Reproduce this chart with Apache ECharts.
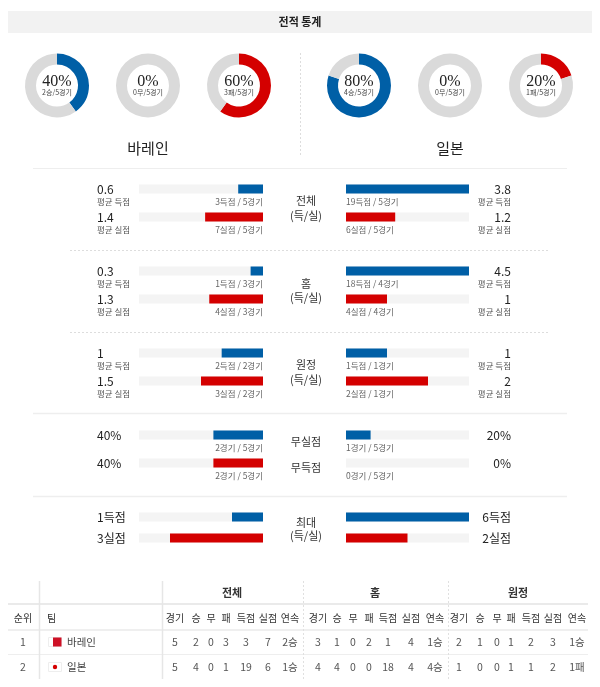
<!DOCTYPE html>
<html><head><meta charset="utf-8">
<script src="https://cdn.jsdelivr.net/npm/echarts@6/dist/echarts.min.js"></script>
<style>html,body{margin:0;padding:0;background:#fff}#c{width:600px;height:687px}</style>
</head><body><div id="c"></div>
<script>
// ---------- DATA ----------
const teams = ['바레인', '일본'];
const games = [5, 5];
const wins = [2, 4];
const draws = [0, 0];
const losses = [3, 1];
const winPct = [40, 80];
const drawPct = [0, 0];
const lossPct = [60, 20];

const sectionTitles = [['전체', '(득/실)'], ['홈', '(득/실)'], ['원정', '(득/실)'], ['무실점', '무득점'], ['최대', '(득/실)']];
const sectionMax = [3, 3, 3, 100, 4];
const bahrainValues = [[0.6, 1.4], [0.3, 1.3], [1, 1.5], [40, 40], [1, 3]];
const japanValues = [[3.8, 1.2], [4.5, 1], [1, 2], [20, 0], [6, 2]];
const bahrainText = [['0.6', '1.4'], ['0.3', '1.3'], ['1', '1.5'], ['40%', '40%'], ['1득점', '3실점']];
const japanText = [['3.8', '1.2'], ['4.5', '1'], ['1', '2'], ['20%', '0%'], ['6득점', '2실점']];
const bahrainDetail = [['3득점 / 5경기', '7실점 / 5경기'], ['1득점 / 3경기', '4실점 / 3경기'], ['2득점 / 2경기', '3실점 / 2경기'], ['2경기 / 5경기', '2경기 / 5경기'], null];
const japanDetail = [['19득점 / 5경기', '6실점 / 5경기'], ['18득점 / 4경기', '4실점 / 4경기'], ['1득점 / 1경기', '2실점 / 1경기'], ['1경기 / 5경기', '0경기 / 5경기'], null];
const avgLabels = ['평균 득점', '평균 실점'];

const tableGroups = ['전체', '홈', '원정'];
const tableCols = ['경기', '승', '무', '패', '득점', '실점', '연속'];
const tableRanks = [1, 2];
const bahrainTable = [[5, 2, 0, 3, 3, 7, '2승'], [3, 1, 0, 2, 1, 4, '1승'], [2, 1, 0, 1, 2, 3, '1승']];
const japanTable = [[5, 4, 0, 1, 19, 6, '1승'], [4, 4, 0, 0, 18, 4, '4승'], [1, 0, 0, 1, 1, 2, '1패']];

// ---------- STYLE / LAYOUT ----------
const BLUE = '#005fa6', RED = '#d40000', RING = '#dadada', TRACK = '#f4f4f4';
const KR = '"Noto Sans CJK KR", "Noto Sans", sans-serif';
const SERIF = '"Liberation Serif", "DejaVu Serif", serif';
const chart = echarts.init(document.getElementById('c'), null, { renderer: 'canvas' });

const graphic = [];
function txt(x, y, text, size, color, align, weight, family) {
  graphic.push({ type: 'text', x: x, y: y, silent: true, style: {
    text: String(text), font: (weight || 'normal') + ' ' + size + 'px ' + (family || KR),
    fill: color, textAlign: align || 'center', textVerticalAlign: 'middle' } });
}
function line(x1, y1, x2, y2, color, w, dash) {
  graphic.push({ type: 'line', silent: true, shape: { x1: x1, y1: y1, x2: x2, y2: y2 },
    style: { stroke: color, lineWidth: w || 1, lineDash: dash || null } });
}
function rect(x, y, w, h, fill, stroke) {
  graphic.push({ type: 'rect', silent: true, shape: { x: x, y: y, width: w, height: h },
    style: { fill: fill, stroke: stroke || null, lineWidth: stroke ? 1 : 0 } });
}

// title band
rect(8, 11, 584, 22, '#f2f2f2');
txt(300, 22, '전적 통계', 11, '#222', 'center', 'bold');

// donuts
const series = [];
const donutX = [[57, 148, 239], [359, 450, 541]];
const donutCY = 85.5;
[0, 1].forEach(t => {
  const pcts = [winPct[t], drawPct[t], lossPct[t]];
  const cols = [BLUE, BLUE, RED];
  const subs = [wins[t] + '승/' + games[t] + '경기', draws[t] + '무/' + games[t] + '경기', losses[t] + '패/' + games[t] + '경기'];
  pcts.forEach((p, k) => {
    series.push({ type: 'pie', silent: true, animation: false, center: [donutX[t][k], donutCY], radius: [21, 32],
      startAngle: 90, clockwise: true, label: { show: false }, labelLine: { show: false },
      itemStyle: { borderWidth: 0 },
      data: [{ value: p, itemStyle: { color: cols[k] } }, { value: 100 - p, itemStyle: { color: RING } }] });
    txt(donutX[t][k], 82, p + '%', 16, '#222', 'center', 'normal', SERIF);
    txt(donutX[t][k], 92, subs[k], 7, '#444', 'center');
  });
});
line(300.5, 53, 300.5, 157, '#dddddd', 1, [2, 2]);
txt(148, 148, teams[0], 15, '#222');
txt(450, 148, teams[1], 15, '#222');
line(33, 168.5, 567, 168.5, '#eeeeee', 1);

// bar sections
const rowY = [[189, 217], [271, 299], [353, 381], [435, 463], [517, 538]];
const centerY = [[201, 216], [284, 298], [365, 380], [442, 468], [523, 536]];
const seps = [[250.5, true], [332.5, true], [413.5, false], [496.5, false]];
seps.forEach(s => {
  if (s[1]) line(70, s[0], 548, s[0], '#dddddd', 1, [2, 2]);
  else line(33, s[0], 567, s[0], '#eeeeee', 1.5);
});

const grids = [], xAxes = [], yAxes = [];
const LX = 139, LW = 124, RX = 346, RW = 123, CX = 306;
sectionTitles.forEach((titles, i) => {
  const r = rowY[i], s = r[1] - r[0];
  const top = r[0] - s / 2, h = 2 * s;
  [[LX, LW, true, bahrainValues[i]], [RX, RW, false, japanValues[i]]].forEach((g, side) => {
    const gi = grids.length;
    grids.push({ left: g[0], top: top, width: g[1], height: h, containLabel: false });
    xAxes.push({ type: 'value', gridIndex: gi, min: 0, max: sectionMax[i], inverse: g[2], show: false });
    yAxes.push({ type: 'category', gridIndex: gi, data: ['a', 'b'], inverse: true, show: false });
    series.push({ type: 'bar', xAxisIndex: gi, yAxisIndex: gi, barWidth: 9, silent: true, animation: false,
      clip: true, showBackground: true, backgroundStyle: { color: TRACK },
      data: g[3].map((v, k) => ({ value: v, itemStyle: { color: k === 0 ? BLUE : RED } })) });
  });
  // center titles
  txt(CX, centerY[i][0], titles[0], 11, '#333');
  txt(CX, centerY[i][1], titles[1], 11, '#333');
  // side labels
  [0, 1].forEach(k => {
    const y = r[k];
    txt(97, y, bahrainText[i][k], 12, '#222', 'left');
    txt(511, y, japanText[i][k], 12, '#222', 'right');
    if (i < 3) {
      txt(97, y + 12.5, avgLabels[k], 8.5, '#555', 'left');
      txt(511, y + 12.5, avgLabels[k], 8.5, '#555', 'right');
    }
    if (bahrainDetail[i]) {
      txt(263, y + 12.5, bahrainDetail[i][k], 8.5, '#666', 'right');
      txt(346, y + 12.5, japanDetail[i][k], 8.5, '#666', 'left');
    }
  });
});

// table
const colX = [[175, 196, 211, 226, 246, 268, 290], [318, 337, 353, 369, 388, 411, 435], [459, 480, 497, 511, 531, 553, 577]];
const groupX = [232, 375, 518];
line(8, 604, 588, 604, '#eaeaea', 2);
line(8, 630, 588, 630, '#eaeaea', 1.5);
line(8, 654.5, 588, 654.5, '#eeeeee', 1);
line(39.5, 581, 39.5, 679, '#e6e6e6', 1.5);
line(162.5, 581, 162.5, 679, '#e6e6e6', 1.5);
line(303.5, 581, 303.5, 679, '#e0e0e0', 1, [2, 2]);
line(448.5, 581, 448.5, 679, '#e0e0e0', 1, [2, 2]);
tableGroups.forEach((g, i) => txt(groupX[i], 593, g, 11, '#333', 'center', 'bold'));
txt(23, 618, '순위', 10, '#333');
txt(47, 618, '팀', 10, '#333', 'left');
colX.forEach(cx => tableCols.forEach((c, j) => txt(cx[j], 618, c, 10, '#333')));
const rowsY = [642, 667];
[bahrainTable, japanTable].forEach((tbl, t) => {
  const y = rowsY[t];
  txt(23, y, tableRanks[t], 10.5, '#555');
  txt(67, y, teams[t], 10.5, '#444', 'left');
  tbl.forEach((vals, gi) => vals.forEach((v, j) => txt(colX[gi][j], y, v, 10.5, '#555')));
});
// flags
rect(48.5, 637.5, 13, 9, '#ffffff', '#eeeeee');
rect(53, 637.5, 8.5, 9, '#ce1126');
rect(48.5, 662.5, 13, 9, '#ffffff', '#eeeeee');
graphic.push({ type: 'circle', silent: true, shape: { cx: 55, cy: 667, r: 2.2 }, style: { fill: '#d40000' } });

chart.setOption({
  animation: false,
  grid: grids, xAxis: xAxes, yAxis: yAxes,
  series: series,
  graphic: { elements: graphic }
});
</script></body></html>
